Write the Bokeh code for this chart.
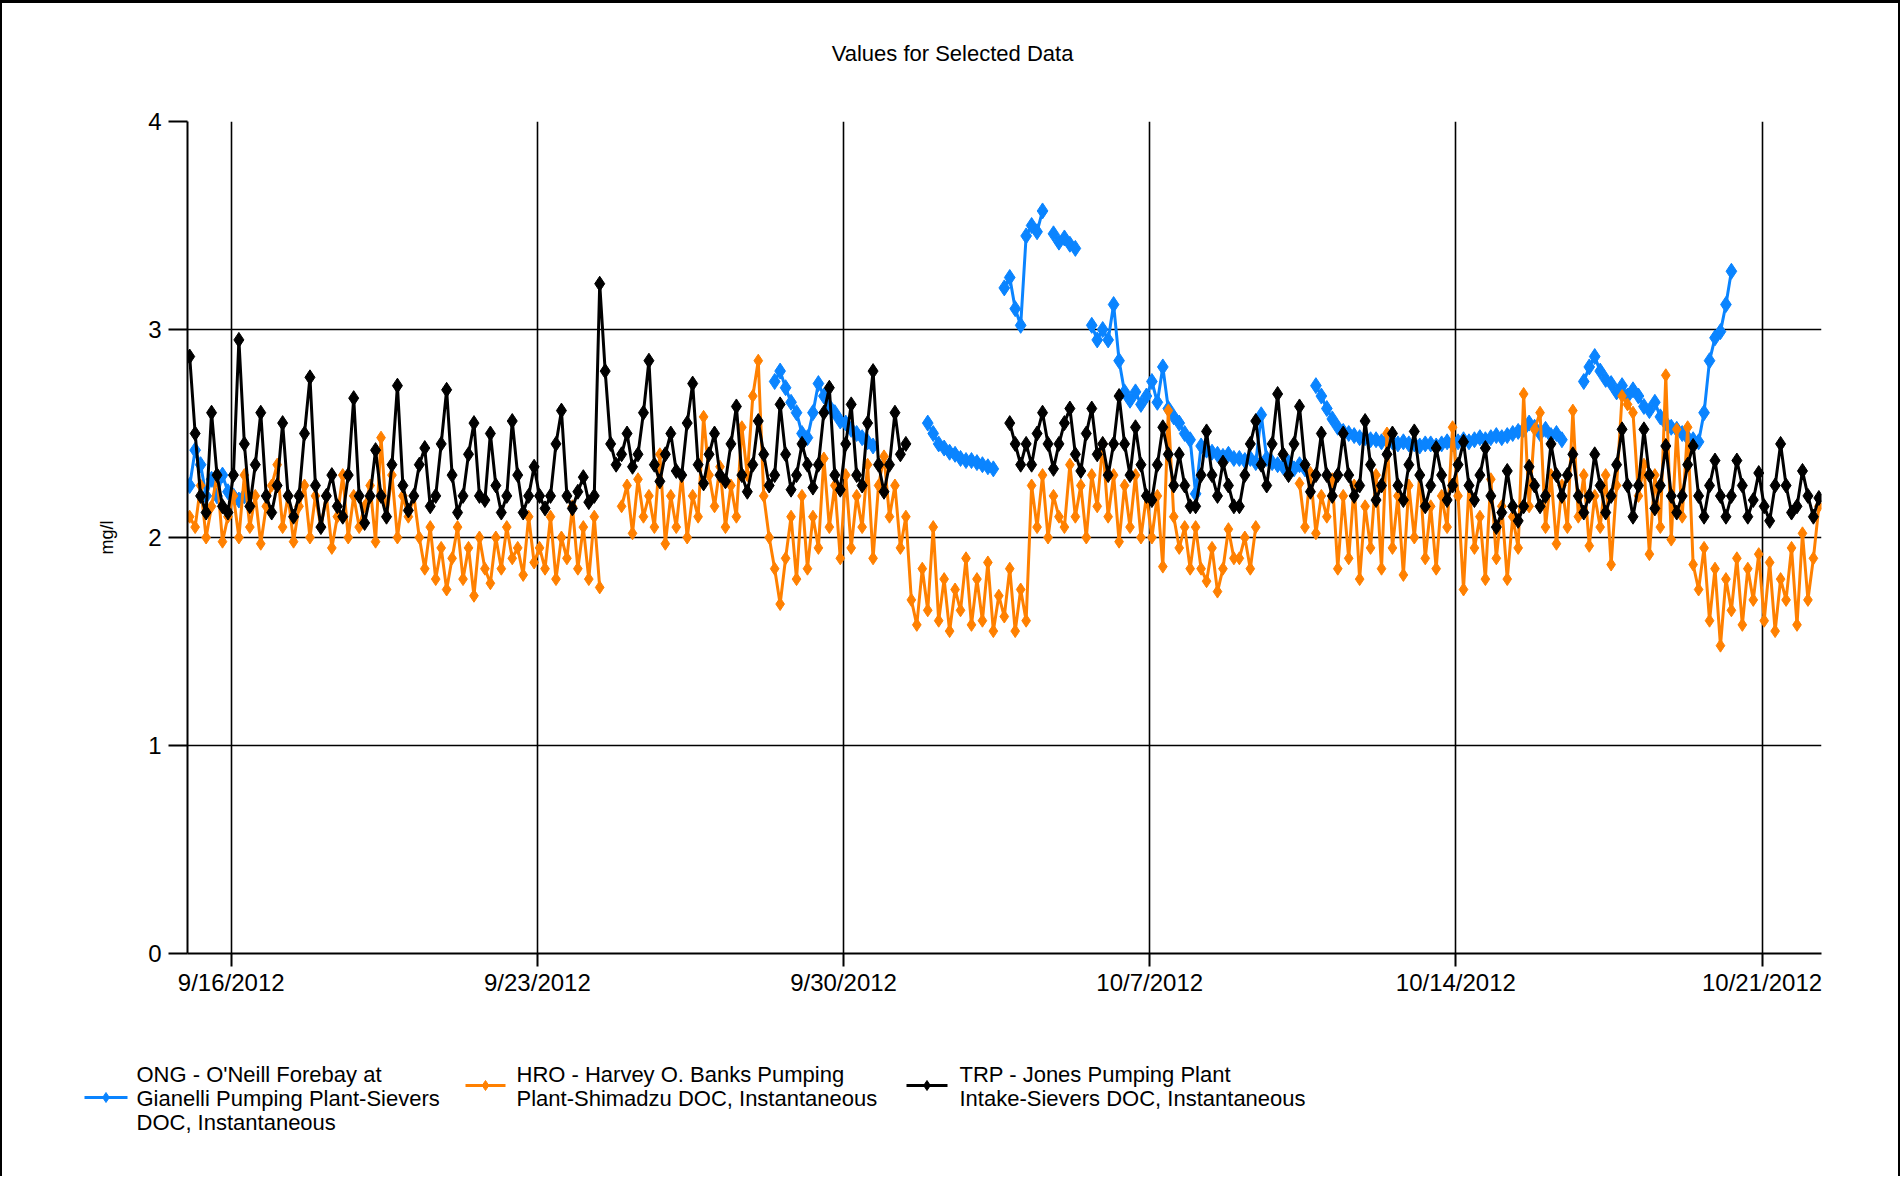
import numpy as np
from bokeh.plotting import figure
from bokeh.layouts import column
from bokeh.models import Range1d, FixedTicker, ColumnDataSource
from bokeh.core.properties import value
from bokeh.embed import file_html
from bokeh.resources import INLINE

N = float("nan")

chart_title = "Values for Selected Data"
y_label = "mg/l"

# x axis: days since 9/15/2012 00:00
tick_days = [1, 8, 15, 22, 29, 36]
tick_labels = ["9/16/2012", "9/23/2012", "9/30/2012", "10/7/2012", "10/14/2012", "10/21/2012"]
y_ticks = [0, 1, 2, 3, 4]

series_names = [
    "ONG - O'Neill Forebay at\nGianelli Pumping Plant-Sievers\nDOC, Instantaneous",
    "HRO - Harvey O. Banks Pumping\nPlant-Shimadzu DOC, Instantaneous",
    "TRP - Jones Pumping Plant\nIntake-Sievers DOC, Instantaneous",
]
series_colors = ["#0a84ff", "#ff8000", "#000000"]

# samples every 3 hours, starting 9/15 01:12
sample_step_days = 0.125
first_sample_day = 0.05

ong = [
    2.25, 2.42, 2.35, 2.2, 2.28, 2.2, 2.3, 2.22,
    2.2, 2.18, 2.2, N, N, N, N, N,
    N, N, N, N, N, N, N, N,
    N, N, N, N, N, N, N, N,
    N, N, N, N, N, N, N, N,
    N, N, N, N, N, N, N, N,
    N, N, N, N, N, N, N, N,
    N, N, N, N, N, N, N, N,
    N, N, N, N, N, N, N, N,
    N, N, N, N, N, N, N, N,
    N, N, N, N, N, N, N, N,
    N, N, N, N, N, N, N, N,
    N, N, N, N, N, N, N, N,
    N, N, N, 2.75, 2.8, 2.72, 2.65, 2.6,
    2.5, 2.48, 2.6, 2.74, 2.68, 2.63, 2.6, 2.56,
    2.55, 2.52, 2.5, 2.48, 2.46, 2.44, N, N,
    N, N, N, N, N, N, N, 2.55,
    2.5, 2.45, 2.43, 2.41, 2.4, 2.38, 2.37, 2.37,
    2.36, 2.35, 2.34, 2.33, N, 3.2, 3.25, 3.1,
    3.02, 3.45, 3.5, 3.47, 3.57, N, 3.46, 3.42,
    3.44, 3.41, 3.39, N, N, 3.02, 2.95, 3.0,
    2.95, 3.12, 2.85, 2.7, 2.66, 2.7, 2.64, 2.68,
    2.75, 2.65, 2.82, 2.62, 2.58, 2.55, 2.5, 2.47,
    2.21, 2.44, 2.42, 2.41, 2.4, 2.39, 2.4, 2.38,
    2.38, 2.37, 2.38, 2.36, 2.59, 2.38, 2.36, 2.35,
    2.34, 2.36, 2.33, 2.35, 2.33, N, 2.73, 2.68,
    2.62, 2.57, 2.53, 2.51, 2.5, 2.49, 2.48, 2.48,
    2.47, 2.47, 2.46, 2.47, 2.46, 2.45, 2.46, 2.45,
    2.45, 2.44, 2.45, 2.45, 2.44, 2.45, 2.46, 2.45,
    2.46, 2.47, 2.46, 2.47, 2.48, 2.47, 2.48, 2.49,
    2.48, 2.49, 2.5, 2.51, 2.52, 2.55, 2.53, 2.5,
    2.52, 2.49, 2.5, 2.47, N, N, N, 2.75,
    2.82, 2.87, 2.8, 2.76, 2.74, 2.7, 2.73, 2.68,
    2.71, 2.68, 2.63, 2.61, 2.65, 2.58, 2.55, 2.53,
    2.52, 2.5, 2.48, 2.47, 2.46, 2.6, 2.85, 2.96,
    2.99, 3.12, 3.28, N, N, N, N, N,
    N, N, N, N, N, N, N, N,
    N, N, N,
]

hro = [
    2.1, 2.05, 2.25, 2.0, 2.15, 2.3, 1.98, 2.1,
    2.2, 2.0, 2.3, 2.05, 2.2, 1.97, 2.15, 2.25,
    2.35, 2.05, 2.2, 1.98, 2.15, 2.25, 2.0, 2.2,
    2.05, 2.2, 1.95, 2.1, 2.3, 2.0, 2.2, 2.05,
    2.15, 2.25, 1.98, 2.48, 2.1, 2.3, 2.0, 2.2,
    2.1, 2.2, 2.0, 1.85, 2.05, 1.8, 1.95, 1.75,
    1.9, 2.05, 1.8, 1.95, 1.72, 2.0, 1.85, 1.78,
    2.0, 1.85, 2.05, 1.9, 1.95, 1.82, 2.1, 1.88,
    1.95, 1.85, 2.1, 1.8, 2.0, 1.9, 2.15, 1.85,
    2.05, 1.8, 2.1, 1.76, N, N, N, 2.15,
    2.25, 2.02, 2.28, 2.1, 2.2, 2.05, 2.4, 1.97,
    2.2, 2.05, 2.3, 2.0, 2.2, 2.1, 2.58, 2.3,
    2.15, 2.34, 2.05, 2.25, 2.1, 2.53, 2.3, 2.68,
    2.85, 2.2, 2.0, 1.85, 1.68, 1.9, 2.1, 1.8,
    2.2, 1.85, 2.1, 1.95, 2.38, 2.05, 2.25, 1.9,
    2.3, 1.95, 2.2, 2.05, 2.35, 1.9, 2.25, 2.39,
    2.1, 2.25, 1.95, 2.1, 1.7, 1.58, 1.85, 1.65,
    2.05, 1.6, 1.8, 1.55, 1.75, 1.65, 1.9, 1.58,
    1.8, 1.6, 1.88, 1.55, 1.72, 1.62, 1.85, 1.55,
    1.75, 1.6, 2.25, 2.05, 2.3, 2.0, 2.2, 2.1,
    2.05, 2.35, 2.1, 2.25, 2.0, 2.3, 2.15, 2.45,
    2.1, 2.3, 1.98, 2.25, 2.05, 2.3, 2.0, 2.2,
    2.0, 2.2, 1.86, 2.61, 2.1, 1.95, 2.05, 1.85,
    2.05, 1.85, 1.79, 1.95, 1.74, 1.85, 2.04, 1.9,
    1.9, 2.0, 1.85, 2.05, N, N, N, N,
    N, N, N, 2.26, 2.05, 2.31, 2.02, 2.2,
    2.1, 2.28, 1.85, 2.2, 1.9, 2.25, 1.8, 2.15,
    1.95, 2.3, 1.85, 2.5, 1.95, 2.2, 1.82, 2.25,
    2.0, 2.3, 1.9, 2.15, 1.85, 2.2, 2.05, 2.53,
    2.2, 1.75, 2.25, 1.95, 2.1, 1.8, 2.28, 1.9,
    2.15, 1.8, 2.1, 1.95, 2.69, 2.15, 2.52, 2.6,
    2.05, 2.3, 1.97, 2.25, 2.05, 2.61, 2.1, 2.3,
    1.96, 2.2, 2.05, 2.3, 1.87, 2.25, 2.68, 2.64,
    2.6, 2.2, 2.35, 1.92, 2.3, 2.05, 2.78, 1.99,
    2.52, 2.1, 2.53, 1.87, 1.75, 1.95, 1.6, 1.85,
    1.48, 1.8, 1.65, 1.9, 1.58, 1.85, 1.7, 1.92,
    1.6, 1.88, 1.55, 1.8, 1.7, 1.95, 1.58, 2.02,
    1.7, 1.9, 2.15,
]

trp = [
    2.87, 2.5, 2.2, 2.12, 2.6, 2.3, 2.15, 2.12,
    2.3, 2.95, 2.45, 2.15, 2.35, 2.6, 2.2, 2.12,
    2.25, 2.55, 2.2, 2.1, 2.2, 2.5, 2.77, 2.25,
    2.05, 2.2, 2.3, 2.15, 2.1, 2.3, 2.67, 2.2,
    2.07, 2.2, 2.42, 2.2, 2.1, 2.35, 2.73, 2.25,
    2.13, 2.2, 2.35, 2.43, 2.15, 2.2, 2.45, 2.71,
    2.3, 2.12, 2.2, 2.4, 2.55, 2.2, 2.18, 2.5,
    2.25, 2.12, 2.2, 2.56, 2.3, 2.12, 2.2, 2.34,
    2.2, 2.14, 2.2, 2.45, 2.61, 2.2, 2.14, 2.22,
    2.29, 2.17, 2.2, 3.22, 2.8, 2.45, 2.35, 2.4,
    2.5, 2.34, 2.4, 2.6, 2.85, 2.35, 2.27, 2.4,
    2.5, 2.32, 2.3, 2.55, 2.74, 2.35, 2.26, 2.4,
    2.5, 2.3, 2.27, 2.45, 2.63, 2.3, 2.22, 2.35,
    2.56, 2.4, 2.25, 2.3, 2.64, 2.4, 2.23, 2.3,
    2.45, 2.35, 2.24, 2.35, 2.6, 2.72, 2.3, 2.23,
    2.45, 2.64, 2.3, 2.25, 2.55, 2.8, 2.35, 2.22,
    2.35, 2.6, 2.4, 2.45, N, N, N, N,
    N, N, N, N, N, N, N, N,
    N, N, N, N, N, N, 2.55, 2.45,
    2.35, 2.45, 2.35, 2.5, 2.6, 2.45, 2.33, 2.45,
    2.55, 2.62, 2.4, 2.32, 2.5, 2.62, 2.4, 2.45,
    2.3, 2.45, 2.68, 2.45, 2.3, 2.53, 2.35, 2.2,
    2.18, 2.35, 2.53, 2.4, 2.25, 2.4, 2.25, 2.15,
    2.15, 2.3, 2.51, 2.3, 2.2, 2.36, 2.25, 2.15,
    2.15, 2.3, 2.45, 2.56, 2.35, 2.25, 2.45, 2.69,
    2.4, 2.3, 2.45, 2.63, 2.35, 2.22, 2.3, 2.5,
    2.3, 2.2, 2.3, 2.5, 2.3, 2.2, 2.25, 2.56,
    2.35, 2.18, 2.25, 2.4, 2.5, 2.25, 2.18, 2.35,
    2.51, 2.3, 2.15, 2.25, 2.43, 2.3, 2.18, 2.25,
    2.35, 2.46, 2.25, 2.18, 2.3, 2.43, 2.2, 2.05,
    2.12, 2.32, 2.15, 2.08, 2.15, 2.34, 2.25, 2.15,
    2.2, 2.45, 2.3, 2.2, 2.3, 2.4, 2.2, 2.12,
    2.2, 2.4, 2.25, 2.12, 2.2, 2.35, 2.52, 2.25,
    2.1, 2.25, 2.52, 2.3, 2.14, 2.25, 2.44, 2.2,
    2.12, 2.2, 2.35, 2.44, 2.2, 2.1, 2.25, 2.37,
    2.2, 2.1, 2.2, 2.37, 2.25, 2.1, 2.18, 2.31,
    2.15, 2.08, 2.25, 2.45, 2.25, 2.12, 2.15, 2.32,
    2.2, 2.1, 2.19,
]

FONT = "Liberation Sans"
W = 1896

# ---------------- title strip ----------------
TH = 98
tf = figure(width=W, height=TH, output_backend="svg", toolbar_location=None,
            x_range=Range1d(0, W), y_range=Range1d(TH, 0),
            x_axis_type=None, y_axis_type=None, min_border=0)
tf.frame_align = False
tf.outline_line_color = None
tf.grid.visible = False
tf.text(x=[950], y=[50], text=[chart_title], text_align="center",
        text_baseline="middle", text_font=value(FONT),
        text_font_size=value("22px"), text_color="black")

# ---------------- main chart ----------------
p = figure(width=W, height=907, output_backend="svg", toolbar_location=None,
           x_range=Range1d(0, 37.36), y_range=Range1d(0, 4),
           min_border_left=185, min_border_right=77, min_border_top=20,
           min_border_bottom=55)
p.frame_align = False
p.outline_line_color = None
p.background_fill_color = "white"
p.border_fill_color = "white"

t = first_sample_day + sample_step_days * np.arange(len(trp))

for vals, col, msize in zip([ong, hro, trp], series_colors, [16, 13, 15]):
    y = np.array(vals, dtype=float)
    p.line(t, y, line_color=col, line_width=3)
    p.scatter(t, y, marker="diamond", size=msize, fill_color=col, line_color=col)

for ax in (p.xaxis[0], p.yaxis[0]):
    ax.axis_line_color = "black"
    ax.axis_line_width = 2
    ax.major_tick_line_color = "black"
    ax.major_tick_line_width = 2
    ax.major_tick_in = 0
    ax.minor_tick_out = 0
    ax.minor_tick_in = 0
    ax.major_label_text_font = FONT
    ax.major_label_text_font_size = "24px"
    ax.major_label_text_color = "black"

p.xaxis.ticker = FixedTicker(ticks=tick_days)
p.xaxis.major_label_overrides = {d: lab for d, lab in zip(tick_days, tick_labels)}
p.xaxis.major_tick_out = 13
p.xaxis.major_label_standoff = 2

p.yaxis.ticker = FixedTicker(ticks=y_ticks)
p.yaxis.major_tick_out = 19
p.yaxis.major_label_standoff = 7
p.yaxis.axis_label = y_label
p.yaxis.axis_label_text_font = FONT
p.yaxis.axis_label_text_font_size = "18px"
p.yaxis.axis_label_text_font_style = "normal"
p.yaxis.axis_label_text_color = "black"
p.yaxis.axis_label_standoff = 28

p.xgrid.grid_line_color = "black"
p.xgrid.grid_line_width = 1.6
p.ygrid.grid_line_color = "black"
p.ygrid.grid_line_width = 1.6

# ---------------- legend strip ----------------
LH = 168
lf = figure(width=W, height=LH, output_backend="svg", toolbar_location=None,
            x_range=Range1d(0, W), y_range=Range1d(LH, 0),
            x_axis_type=None, y_axis_type=None, min_border=0)
lf.frame_align = False
lf.outline_line_color = None
lf.grid.visible = False

glyph_x0 = [82, 463, 904]
glyph_x1 = [125, 503, 945]
glyph_y = [89, 77, 77]
text_x = [134, 514, 957]
line_y = [66, 90, 114]

lf.segment(x0=glyph_x0, y0=glyph_y, x1=glyph_x1, y1=glyph_y,
           line_color=series_colors, line_width=3)
lf.scatter(x=[(a + b) / 2 for a, b in zip(glyph_x0, glyph_x1)], y=glyph_y,
           marker="diamond", size=10, fill_color=series_colors,
           line_color=series_colors)

tx, ty, tt = [], [], []
for name, x0 in zip(series_names, text_x):
    for i, part in enumerate(name.split("\n")):
        tx.append(x0)
        ty.append(line_y[i])
        tt.append(part)
lf.text(x="x", y="y", text="t", source=ColumnDataSource(dict(x=tx, y=ty, t=tt)),
        text_baseline="middle", text_align="left", text_font=value(FONT),
        text_font_size=value("22px"), text_color="black")

layout = column(tf, p, lf, spacing=0)
layout.styles = {"border-top": "3px solid #000", "border-left": "2px solid #000",
                 "border-right": "2px solid #000"}

open("out.html", "w").write(file_html(layout, INLINE))
